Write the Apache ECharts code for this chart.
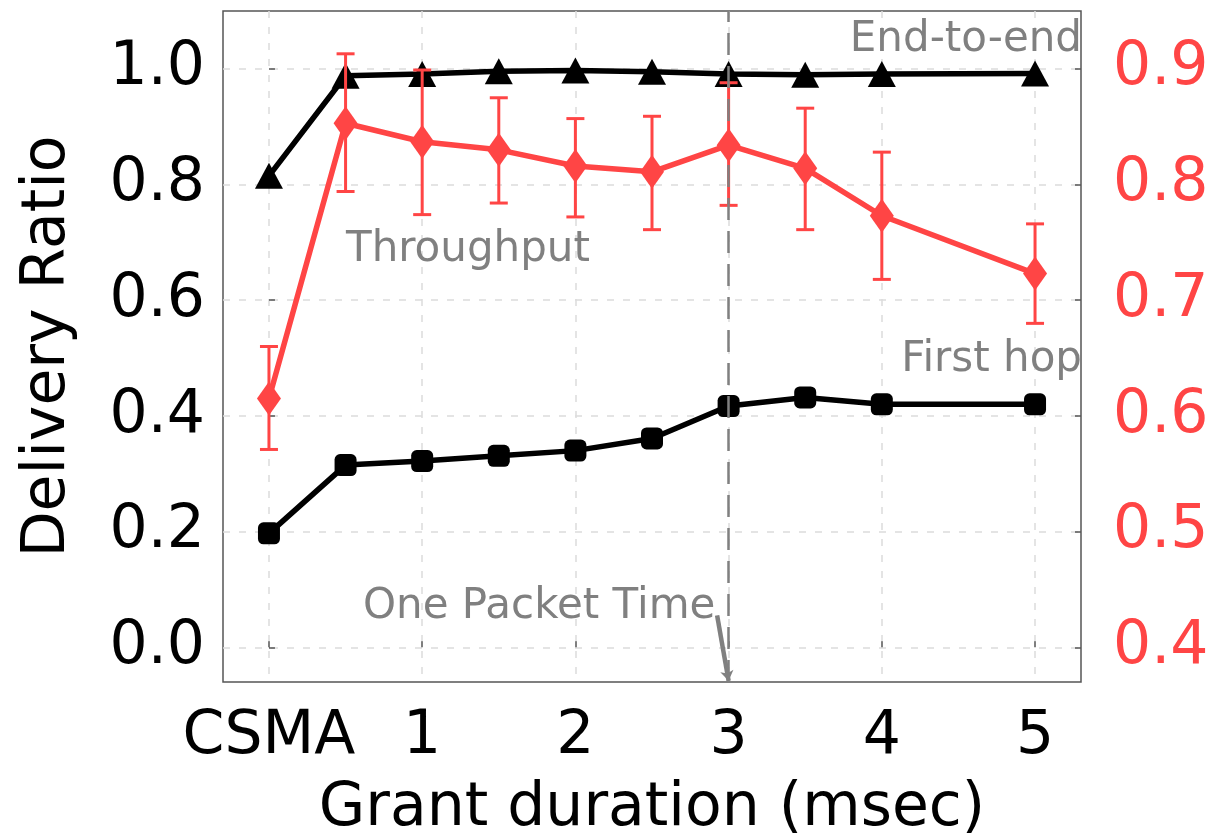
<!DOCTYPE html>
<html>
<head>
<meta charset="utf-8">
<script src="https://cdn.jsdelivr.net/npm/echarts@6/dist/echarts.min.js"></script>
<style>
html,body{margin:0;padding:0;background:#fff;}
#chart{width:1210px;height:839px;}
</style>
</head>
<body>
<div id="chart"></div>
<script>
// x positions (0 = CSMA), in msec
const grantDurations = [0, 0.5, 1, 1.5, 2, 2.5, 3, 3.5, 4, 5];
const xTickValues = [0, 1, 2, 3, 4, 5];
const xTickLabels = ['CSMA', '1', '2', '3', '4', '5'];
const leftTickValues = [0, 0.2, 0.4, 0.6, 0.8, 1.0];
const rightTickValues = [0.4, 0.5, 0.6, 0.7, 0.8, 0.9];

const endToEnd = [0.815, 0.988, 0.991, 0.996, 0.997, 0.995, 0.991, 0.990, 0.991, 0.992];
const firstHop = [0.197, 0.315, 0.322, 0.331, 0.340, 0.361, 0.417, 0.432, 0.420, 0.420];
const throughput = [0.615, 0.853, 0.837, 0.830, 0.816, 0.811, 0.834, 0.814, 0.773, 0.723];
const throughputLow = [0.571, 0.794, 0.774, 0.784, 0.772, 0.761, 0.782, 0.761, 0.718, 0.680];
const throughputHigh = [0.660, 0.913, 0.899, 0.875, 0.857, 0.859, 0.888, 0.866, 0.828, 0.766];

const onePacketTime = 3;
const RED = '#FF4545';
const GREY = '#808080';
const FONT = 'DejaVu Sans';

const chart = echarts.init(document.getElementById('chart'), null, {renderer: 'canvas'});

const zip = (xs, ys) => xs.map((x, i) => [x, ys[i]]);

const option = {
  animation: false,
  backgroundColor: '#ffffff',
  textStyle: {fontFamily: FONT},
  grid: {
    left: 223, right: 129, top: 11, bottom: 157,
    show: true, borderColor: '#555555', borderWidth: 1.5,
    containLabel: false,
    outerBoundsMode: 'none'
  },
  xAxis: {
    type: 'value', min: -0.3, max: 5.3,
    name: 'Grant duration (msec)',
    nameLocation: 'middle', nameGap: 97, nameMoveOverlap: false,
    nameTextStyle: {fontFamily: FONT, fontSize: 60, color: '#000'},
    axisLine: {show: false},
    axisTick: {show: true, inside: true, length: 6, customValues: xTickValues, lineStyle: {color: '#555', width: 1.5}},
    axisLabel: {
      customValues: xTickValues, margin: 25,
      fontFamily: FONT, fontSize: 60, color: '#000',
      formatter: v => xTickLabels[xTickValues.indexOf(Math.round(v))]
    },
    splitLine: {show: true, lineStyle: {color: '#dcdcdc', type: [7, 9], width: 1.5}}
  },
  yAxis: [
    {
      type: 'value', min: -0.06, max: 1.1,
      name: 'Delivery Ratio',
      nameLocation: 'middle', nameGap: 145, nameRotate: 90, nameMoveOverlap: false,
      nameTextStyle: {fontFamily: FONT, fontSize: 60, color: '#000'},
      axisLine: {show: false},
      axisTick: {show: true, inside: true, length: 6, customValues: leftTickValues, lineStyle: {color: '#555', width: 1.5}},
      axisLabel: {
        customValues: leftTickValues, margin: 18,
        fontFamily: FONT, fontSize: 60, color: '#000',
        formatter: v => v.toFixed(1)
      },
      splitLine: {show: true, lineStyle: {color: '#dcdcdc', type: [7, 9], width: 1.5}}
    },
    {
      type: 'value', min: 0.37, max: 0.95, position: 'right',
      axisLine: {show: false},
      axisTick: {show: true, inside: true, length: 6, customValues: rightTickValues, lineStyle: {color: '#555', width: 1.5}},
      axisLabel: {
        customValues: rightTickValues, margin: 32,
        fontFamily: FONT, fontSize: 60, color: RED,
        formatter: v => v.toFixed(1)
      },
      splitLine: {show: false}
    }
  ],
  series: [
    {
      name: 'First hop', type: 'line', yAxisIndex: 0,
      data: zip(grantDurations, firstHop),
      symbol: 'roundRect', symbolSize: 22,
      lineStyle: {color: '#000', width: 5.5},
      itemStyle: {color: '#000'},
      z: 3
    },
    {
      name: 'End-to-end', type: 'line', yAxisIndex: 0,
      data: zip(grantDurations, endToEnd),
      symbol: 'triangle', symbolSize: [28, 26],
      lineStyle: {color: '#000', width: 5.5},
      itemStyle: {color: '#000'},
      z: 3,
      markLine: {
        silent: true, symbol: ['none', 'none'], label: {show: false},
        lineStyle: {color: GREY, type: [22, 11], width: 2.5},
        data: [{xAxis: onePacketTime}]
      }
    },
    {
      name: 'Throughput error', type: 'custom', yAxisIndex: 1,
      data: grantDurations.map((x, i) => [x, throughputLow[i], throughputHigh[i]]),
      encode: {x: 0, y: [1, 2]},
      z: 4,
      renderItem: function (params, api) {
        const x = api.value(0);
        const lo = api.coord([x, api.value(1)]);
        const hi = api.coord([x, api.value(2)]);
        const hw = 9;
        const st = {stroke: RED, lineWidth: 3};
        return {
          type: 'group',
          children: [
            {type: 'line', shape: {x1: lo[0], y1: lo[1], x2: hi[0], y2: hi[1]}, style: st},
            {type: 'line', shape: {x1: lo[0] - hw, y1: lo[1], x2: lo[0] + hw, y2: lo[1]}, style: st},
            {type: 'line', shape: {x1: hi[0] - hw, y1: hi[1], x2: hi[0] + hw, y2: hi[1]}, style: st}
          ]
        };
      }
    },
    {
      name: 'Throughput', type: 'line', yAxisIndex: 1,
      data: zip(grantDurations, throughput),
      symbol: 'diamond', symbolSize: [24, 34],
      lineStyle: {color: RED, width: 5.5},
      itemStyle: {color: RED},
      z: 5
    },
    {
      name: 'arrow', type: 'line', yAxisIndex: 0, data: [],
      markLine: {
        silent: true, symbol: ['none', 'arrow'], symbolSize: 10,
        label: {show: false},
        lineStyle: {color: GREY, type: 'solid', width: 4.5},
        data: [[{coord: [2.925, 0.055]}, {coord: [3.0, -0.058]}]]
      }
    }
  ],
  graphic: [
    {type: 'text', right: 128, top: 19, z: 10,
     style: {text: 'End-to-end', fontFamily: FONT, fontSize: 42, fill: GREY}},
    {type: 'text', left: 346, top: 229, z: 10,
     style: {text: 'Throughput', fontFamily: FONT, fontSize: 42, fill: GREY}},
    {type: 'text', right: 128, top: 339, z: 10,
     style: {text: 'First hop', fontFamily: FONT, fontSize: 42, fill: GREY}},
    {type: 'text', left: 363, top: 586, z: 10,
     style: {text: 'One Packet Time', fontFamily: FONT, fontSize: 42, fill: GREY}}
  ]
};

chart.setOption(option);
</script>
</body>
</html>
